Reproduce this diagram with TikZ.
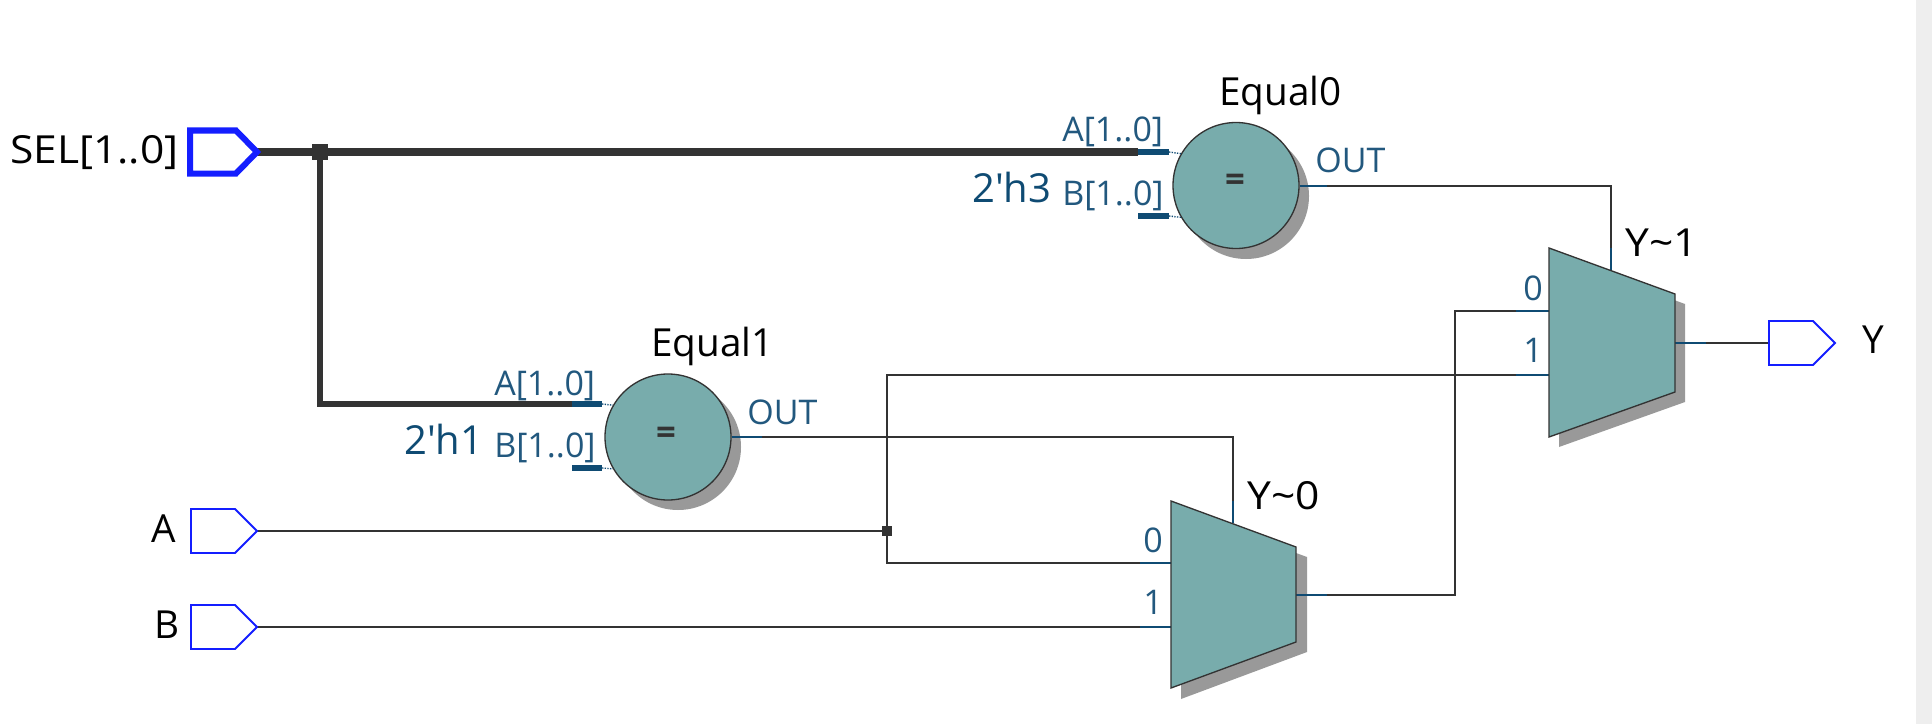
\documentclass[tikz,border=0pt]{standalone}
\usepackage{fontspec}
\setmainfont{Open Sans}
\definecolor{muxteal}{RGB}{120,172,172}
\definecolor{shadowgrey}{RGB}{153,153,153}
\definecolor{wiregrey}{RGB}{51,51,51}
\definecolor{stubblue}{RGB}{15,75,115}
\definecolor{portblue}{RGB}{34,88,126}
\definecolor{pinblue}{RGB}{20,30,255}
\definecolor{stripgrey}{RGB}{238,238,238}
\tikzset{
  wire/.style={draw=wiregrey,line width=1.5pt},
  bus/.style={draw=wiregrey,line width=6pt},
  stub/.style={draw=stubblue,line width=1.5pt},
  busstub/.style={draw=stubblue,line width=5.2pt},
  pinshape/.style={draw=pinblue,line width=1.4pt,fill=white,line join=miter},
  selshape/.style={draw=pinblue,line width=4.5pt,fill=white,line join=miter},
  cell/.style={draw=wiregrey,line width=1pt,fill=muxteal},
  cellshadow/.style={fill=shadowgrey},
  eqcircle/.style={circle,cell,minimum size=94.5pt,inner sep=0pt},
  eqshadow/.style={circle,cellshadow,minimum size=94.5pt,inner sep=0pt},
  dot/.style={fill=wiregrey,inner sep=0pt,minimum width=#1,minimum height=#1},
  blackname/.style={anchor=base west,inner sep=0pt,font=\fontsize{29}{29}\selectfont},
  portname/.style={anchor=base west,inner sep=0pt,text=portblue,font=\fontsize{25.5}{25.5}\selectfont},
  constname/.style={anchor=base west,inner sep=0pt,text=stubblue,font=\fontsize{30}{30}\selectfont},
}
\begin{document}
\begin{tikzpicture}[x=0.75pt,y=0.75pt,yscale=-1,xscale=1]
\useasboundingbox (0,0) rectangle (1932,724);
\fill [stripgrey] (1916,0) rectangle (1932,724);

%Coordinates of the pins
\coordinate (seltip) at (257,152);
\coordinate (atip) at (257,531);
\coordinate (btip) at (257,627);
\coordinate (ybase) at (1769,343);
\coordinate (eq0a) at (1138,152);
\coordinate (eq0ae) at (1169,152);
\coordinate (eq0b) at (1138,216);
\coordinate (eq0be) at (1169,216);
\coordinate (eq1a) at (572,404);
\coordinate (eq1ae) at (602,404);
\coordinate (eq1b) at (572,468);
\coordinate (eq1be) at (602,468);
\coordinate (mux0i0) at (1171,563);
\coordinate (mux0i1) at (1171,627);
\coordinate (mux0o) at (1296,595);
\coordinate (mux0s) at (1233,523);
\coordinate (mux1i0) at (1549,311);
\coordinate (mux1i1) at (1549,375);
\coordinate (mux1o) at (1675,343);
\coordinate (mux1s) at (1611,270);

%Shadows
\node [eqshadow] (eq0shadow) at (1246,196) {};
\node [eqshadow] (eq1shadow) at (678,447) {};
\fill [cellshadow] (1181,511) -- (1307,557) -- (1307,652) -- (1181,699) -- cycle ;
\fill [cellshadow] (1559,258) -- (1685,304) -- (1685,402) -- (1559,447) -- cycle ;

%Circles
\node [eqcircle] (equal0) at (1236,185.5) {};
\node [eqcircle] (equal1) at (668,437) {};
\node [font=\bfseries\fontsize{26}{26}\selectfont,text=wiregrey,inner sep=0pt] (eq0sign) at (1235,183) {=};
\node [font=\bfseries\fontsize{26}{26}\selectfont,text=wiregrey,inner sep=0pt] (eq1sign) at (666,436) {=};

%Junctions
\node [dot=12pt] (seldot) at (320,152) {};
\node [dot=7pt,minimum height=8pt] (adot) at (887,531) {};

%Straight Lines
\draw [bus] (seltip) -- (eq0a) ;
\draw [line width=5.2pt,draw=wiregrey] (seldot.center) -- (seldot.center |- eq1a) -- (eq1a) ;
\draw [wire] (atip) -- (adot.center) ;
\draw [wire] (adot.center) |- (mux0i0) ;
\draw [wire] (adot.center) |- (mux1i1) ;
\draw [wire] (btip) -- (mux0i1) ;
\draw [wire] (equal0.east) -| (mux1s) ;
\draw [wire] (equal1.east) -| (mux0s) ;
\draw [wire] (mux0o) -| (1455,311) -- (mux1i0) ;
\draw [wire] (mux1o) -- (ybase) ;

%Blue pin stubs
\draw [busstub] (eq0a) -- (eq0ae) ;
\draw [busstub] (eq0b) -- (eq0be) ;
\draw [busstub] (eq1a) -- (eq1ae) ;
\draw [busstub] (eq1b) -- (eq1be) ;
\draw [stubblue,line width=1pt,densely dotted] (eq0ae) -- (equal0.150) ;
\draw [stubblue,line width=1pt,densely dotted] (eq0be) -- (equal0.210) ;
\draw [stubblue,line width=1pt,densely dotted] (eq1ae) -- (equal1.150) ;
\draw [stubblue,line width=1pt,densely dotted] (eq1be) -- (equal1.210) ;
\draw [stub] (1140,563) -- (mux0i0) ;
\draw [stub] (1140,627) -- (mux0i1) ;
\draw [stub] (1516,311) -- (mux1i0) ;
\draw [stub] (1516,375) -- (mux1i1) ;
\draw [stub] (mux0o) -- (1327,595) ;
\draw [stub] (mux1o) -- (1706,343) ;
\draw [stub] (equal0.east) -- (1327,185.5) ;
\draw [stub] (equal1.east) -- (762,437) ;
\draw [stub] (1233,501) -- (mux0s) ;
\draw [stub] (1611,248) -- (mux1s) ;

%Muxes
\draw [cell] (1171,501) -- (1296,547) -- (1296,642) -- (1171,688) -- cycle ;
\draw [cell] (1549,248) -- (1675,294) -- (1675,392) -- (1549,437) -- cycle ;

%Pins
\draw [selshape] (190,130.5) -- (236,130.5) -- (seltip) -- (236,173.5) -- (190,173.5) -- cycle ;
\draw [pinshape] (191,509) -- (235,509) -- (atip) -- (235,553) -- (191,553) -- cycle ;
\draw [pinshape] (191,605) -- (235,605) -- (btip) -- (235,649) -- (191,649) -- cycle ;
\draw [pinshape] (ybase |- 0,321) -- (1813,321) -- (1835,343) -- (1813,365) -- (ybase |- 0,365) -- cycle ;

% Text Node
\draw (10,163) node (lblsel) [blackname] {\scalebox{1.1}[1]{SEL[1..0]}};
\draw (151,542) node (lbla) [blackname] {A};
\draw (154,638) node (lblb) [blackname] {B};
\draw (1862,353) node (lbly) [blackname] {Y};
\draw (1219,105) node (lbleq0) [blackname] {Equal0};
\draw (651,356) node (lbleq1) [blackname] {Equal1};
\draw (1247,509) node (lblmux0) [blackname] {\scalebox{1.1}[1]{Y\char`\~0}};
\draw (1625,256) node (lblmux1) [blackname] {\scalebox{1.1}[1]{Y\char`\~1}};
\draw (972,202) node (lblh3) [constname] {2\textquotesingle h3};
\draw (404,454) node (lblh1) [constname] {2\textquotesingle h1};
% Text Node
\draw (1062,142) node (porta0) [portname] {A[1..0]};
\draw (1062,205) node (portb0) [portname] {B[1..0]};
\draw (494,395) node (porta1) [portname] {A[1..0]};
\draw (494,457) node (portb1) [portname] {B[1..0]};
\draw (1315,172) node (portout0) [portname] {OUT};
\draw (747,424) node (portout1) [portname] {OUT};
\draw (1143,552) node (port00) [portname] {0};
\draw (1143,614) node (port01) [portname] {1};
\draw (1523,300) node (port10) [portname] {0};
\draw (1523,362) node (port11) [portname] {1};

\end{tikzpicture}
\end{document}
